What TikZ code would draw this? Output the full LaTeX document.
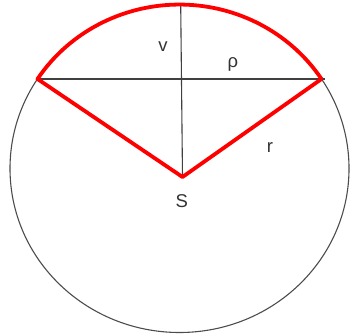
\documentclass[tikz,border=0pt]{standalone}
\usepackage{fontspec}
\setmainfont{Liberation Sans}
\begin{document}
\begin{tikzpicture}[x=1pt,y=1pt,
  thin line/.style={draw=black!75, line width=1.1pt},
  red line/.style={draw=red, line width=3.8pt, line join=round, line cap=round},
  lbl/.style={inner sep=0pt, anchor=center, text=black!80, font=\fontsize{18.5}{20}\selectfont}]
\useasboundingbox (0,0) rectangle (350,336);
% circle
\coordinate (C) at (179.5,167.5);
\draw[thin line, draw=black!70] (C) ellipse [x radius=169.5pt, y radius=164pt];
% key points
\coordinate (A) at (37.5,257);
\coordinate (B) at (321.5,257);
\coordinate (Ae) at (36,257);
\coordinate (Be) at (325,257);
\coordinate (T) at (180.7,331.5);
\coordinate (S) at (182.5,159);
% thin lines
\draw[thin line] (T) -- (S);
\draw[thin line] (Ae) -- (Be);
% red outline
\draw[red line] (S) -- (A) arc [start angle=146.9, end angle=33.1, x radius=169.5pt, y radius=164pt] -- cycle;
% labels
\node[lbl] (lv) at (163,289.3) {v};
\node[lbl] (lrho) at (233,271.5) {ρ};
\node[lbl] (lr) at (270,188) {r};
\node[lbl] (ls) at (181.7,134.5) {S};
\end{tikzpicture}
\end{document}
